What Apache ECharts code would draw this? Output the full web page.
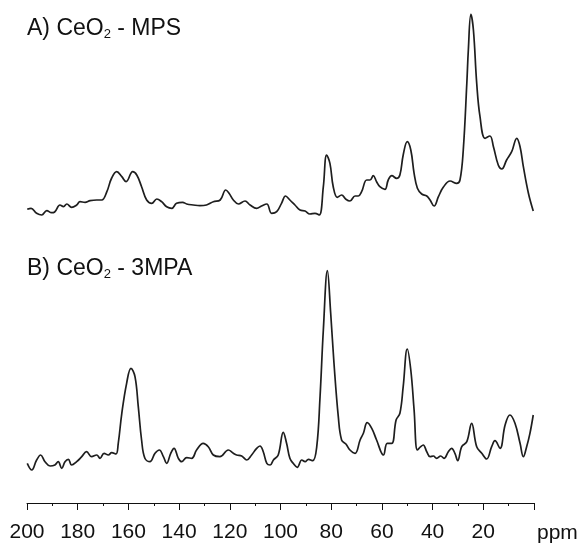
<!DOCTYPE html>
<html>
<head>
<meta charset="utf-8">
<script src="https://cdn.jsdelivr.net/npm/echarts@6/dist/echarts.min.js"></script>
<style>
  html, body { margin: 0; padding: 0; background: #fff; }
  #chart { width: 580px; height: 544px; }
</style>
</head>
<body>
<div id="chart"></div>
<script>
// 13C spectra, chemical shift (ppm) and intensity (a.u.)
var ppmA = [199.9, 198.4, 196.2, 194.2, 192.2, 190.3, 189.1, 187.0, 185.6, 184.3, 182.4, 180.4, 179.1, 177.1, 175.1, 172.5, 170.5, 168.5, 166.6, 164.6, 162.6, 160.9, 158.3, 156.7, 154.8, 152.8, 150.8, 148.8, 146.9, 144.9, 142.9, 141.0, 138.6, 137.0, 134.4, 131.8, 129.2, 126.5, 123.8, 121.6, 120.3, 118.6, 116.6, 114.0, 112.0, 109.4, 107.5, 105.4, 103.5, 101.5, 99.6, 98.0, 96.3, 94.3, 92.3, 90.3, 88.4, 86.4, 84.7, 83.1, 81.8, 80.5, 79.2, 77.6, 75.9, 74.2, 72.6, 70.6, 69.3, 68.0, 66.0, 64.7, 63.4, 62.1, 60.8, 58.8, 57.5, 56.1, 54.2, 52.9, 51.6, 50.0, 48.6, 47.3, 46.0, 44.3, 42.3, 41.0, 39.4, 37.7, 35.8, 33.1, 30.5, 29.2, 27.9, 26.5, 25.9, 24.9, 23.9, 22.6, 21.3, 19.3, 17.4, 16.0, 14.1, 12.7, 10.8, 8.8, 6.8, 5.5, 4.2, 2.2, 0.3];
var intA = [10.7, 11.7, 6.7, 5, 9.3, 7.3, 8, 15, 13.3, 16, 12.7, 15, 18.3, 17.7, 19.3, 20, 20, 28.3, 42, 48.3, 43.3, 38.3, 48.3, 45, 33.3, 20, 16.7, 21, 18.3, 13.3, 11.7, 16.7, 17.7, 16, 15, 14.3, 15, 18.3, 20, 30, 26.7, 20, 16, 19, 15, 11.7, 14, 16, 6.7, 8.3, 16.7, 24, 20, 15, 10, 9, 6, 6.7, 5, 33.3, 65, 56.7, 33.3, 22.7, 25, 20.7, 19, 24, 24, 28.3, 40, 40, 44.3, 38.3, 33.3, 30.7, 40, 44.3, 41.7, 45, 65, 78.3, 70, 46.7, 31.7, 26, 24, 20, 14, 23.3, 32.7, 39, 36.7, 40, 70, 136.7, 170, 205.7, 190, 136.7, 103.3, 81.7, 84, 73.3, 55, 51, 60, 68.3, 81.7, 73.3, 53.3, 26.7, 9];

var ppmB = [199.9, 198.1, 196.2, 194.6, 192.9, 190.9, 189.0, 187.7, 186.3, 185.0, 183.7, 182.4, 180.4, 178.4, 176.5, 174.5, 172.5, 171.2, 169.6, 167.9, 166.6, 164.9, 164.0, 162.6, 160.7, 159.0, 157.4, 156.1, 154.8, 153.5, 151.5, 149.5, 147.8, 146.2, 144.9, 143.3, 142.0, 140.3, 139.0, 137.0, 135.0, 133.1, 130.5, 128.5, 126.5, 123.9, 120.6, 118.6, 117.3, 115.3, 113.3, 111.4, 109.4, 108.1, 106.8, 105.4, 104.1, 102.8, 100.9, 98.9, 97.6, 96.3, 95.0, 93.4, 91.6, 90.3, 89.0, 87.3, 85.7, 84.4, 83.1, 81.5, 80.2, 78.9, 77.2, 75.9, 74.2, 72.6, 70.6, 68.6, 67.3, 65.8, 64.0, 62.1, 59.4, 57.9, 56.1, 54.4, 52.9, 51.6, 50.0, 48.6, 47.3, 46.0, 44.7, 43.7, 42.3, 41.0, 39.7, 38.4, 36.8, 35.5, 33.8, 32.5, 31.2, 30.1, 28.5, 26.5, 24.6, 22.6, 20.6, 18.7, 16.7, 15.4, 13.4, 11.4, 9.5, 7.5, 5.5, 4.2, 2.9, 1.6, 0.3];
var intB = [11.7, 5, 15, 20, 13.3, 9, 10, 13.3, 6.7, 13.3, 15.7, 10, 13.3, 18.3, 23.3, 18.3, 20, 16.7, 21.7, 20, 22.3, 21, 31.7, 61.7, 91.7, 106.7, 98.3, 68.3, 35, 16.7, 13.3, 21.7, 25, 18.3, 11.7, 21.7, 26.7, 16.7, 13.3, 17.3, 16.7, 25, 31.7, 28.3, 20, 18.3, 25, 21.7, 20, 19, 15, 20, 26.7, 29, 23.3, 11.7, 10, 15, 20, 42.7, 31.7, 16.7, 11.7, 7.7, 15, 13.3, 15.7, 14.3, 28.3, 78.3, 145, 204.3, 161.7, 111.7, 58.3, 35, 31, 25, 21.7, 35, 41.7, 52.3, 46.7, 35, 20, 31.7, 31.7, 55, 61.7, 88.3, 126, 105, 65, 25, 28.3, 30, 23.3, 18.3, 19, 16.7, 19, 16.7, 23.3, 26.7, 21.7, 14.3, 28.3, 33.3, 51.7, 28.3, 21.7, 16, 28.3, 34.3, 26.7, 50, 60, 51.7, 31.7, 18.3, 28.3, 41.7, 60];

var titles = ['A) CeO{s|2} - MPS', 'B) CeO{s|2} - 3MPA'];
var ppmTicks = [200, 180, 160, 140, 120, 100, 80, 60, 40, 20];

function pairs(xs, ys) {
  return xs.map(function (x, i) { return [x, ys[i]]; });
}

var font = '"Liberation Sans", Arial, sans-serif';
var titleStyle = {
  fontFamily: font, fontSize: 23, lineHeight: 24, fontWeight: 'normal', color: '#111',
  rich: { s: { fontFamily: font, fontSize: 13, lineHeight: 8, verticalAlign: 'bottom', color: '#111' } }
};

var myChart = echarts.init(document.getElementById('chart'));
myChart.setOption({
  backgroundColor: '#fff',
  animation: false,
  title: [
    { text: titles[0], left: 27, top: 17, padding: 0, textStyle: titleStyle },
    { text: titles[1], left: 27, top: 257, padding: 0, textStyle: titleStyle }
  ],
  grid: [
    { left: 27, right: 46, top: 0, height: 220, outerBoundsMode: 'none' },
    { left: 27, right: 46, top: 255, height: 248, outerBoundsMode: 'none' }
  ],
  xAxis: [
    { gridIndex: 0, type: 'value', min: 0, max: 200, inverse: true, show: false },
    {
      gridIndex: 1, type: 'value', min: 0, max: 200, interval: 20, inverse: true,
      position: 'bottom',
      name: 'ppm', nameLocation: 'start', nameGap: 3,
      nameTextStyle: { fontFamily: font, fontSize: 21, color: '#111', verticalAlign: 'top', padding: [20, 0, 0, 0] },
      axisLine: { onZero: false, lineStyle: { color: '#111', width: 1 } },
      axisTick: { inside: false, length: 7, lineStyle: { color: '#111' } },
      minorTick: { show: true, splitNumber: 2, length: 3, lineStyle: { color: '#111' } },
      splitLine: { show: false },
      axisLabel: {
        fontFamily: font, fontSize: 21, color: '#111', margin: 19,
        formatter: function (v) { return ppmTicks.indexOf(v) >= 0 ? String(v) : ''; }
      }
    }
  ],
  yAxis: [
    { gridIndex: 0, type: 'value', min: 0, max: 220, show: false },
    { gridIndex: 1, type: 'value', min: -28, max: 220, show: false }
  ],
  series: [
    {
      name: 'CeO2 - MPS', type: 'line', xAxisIndex: 0, yAxisIndex: 0,
      data: pairs(ppmA, intA), showSymbol: false, smooth: 0.4, clip: false,
      lineStyle: { color: '#1e1e1e', width: 1.7 }
    },
    {
      name: 'CeO2 - 3MPA', type: 'line', xAxisIndex: 1, yAxisIndex: 1,
      data: pairs(ppmB, intB), showSymbol: false, smooth: 0.4, clip: false,
      lineStyle: { color: '#1e1e1e', width: 1.7 }
    }
  ]
});
</script>
</body>
</html>
